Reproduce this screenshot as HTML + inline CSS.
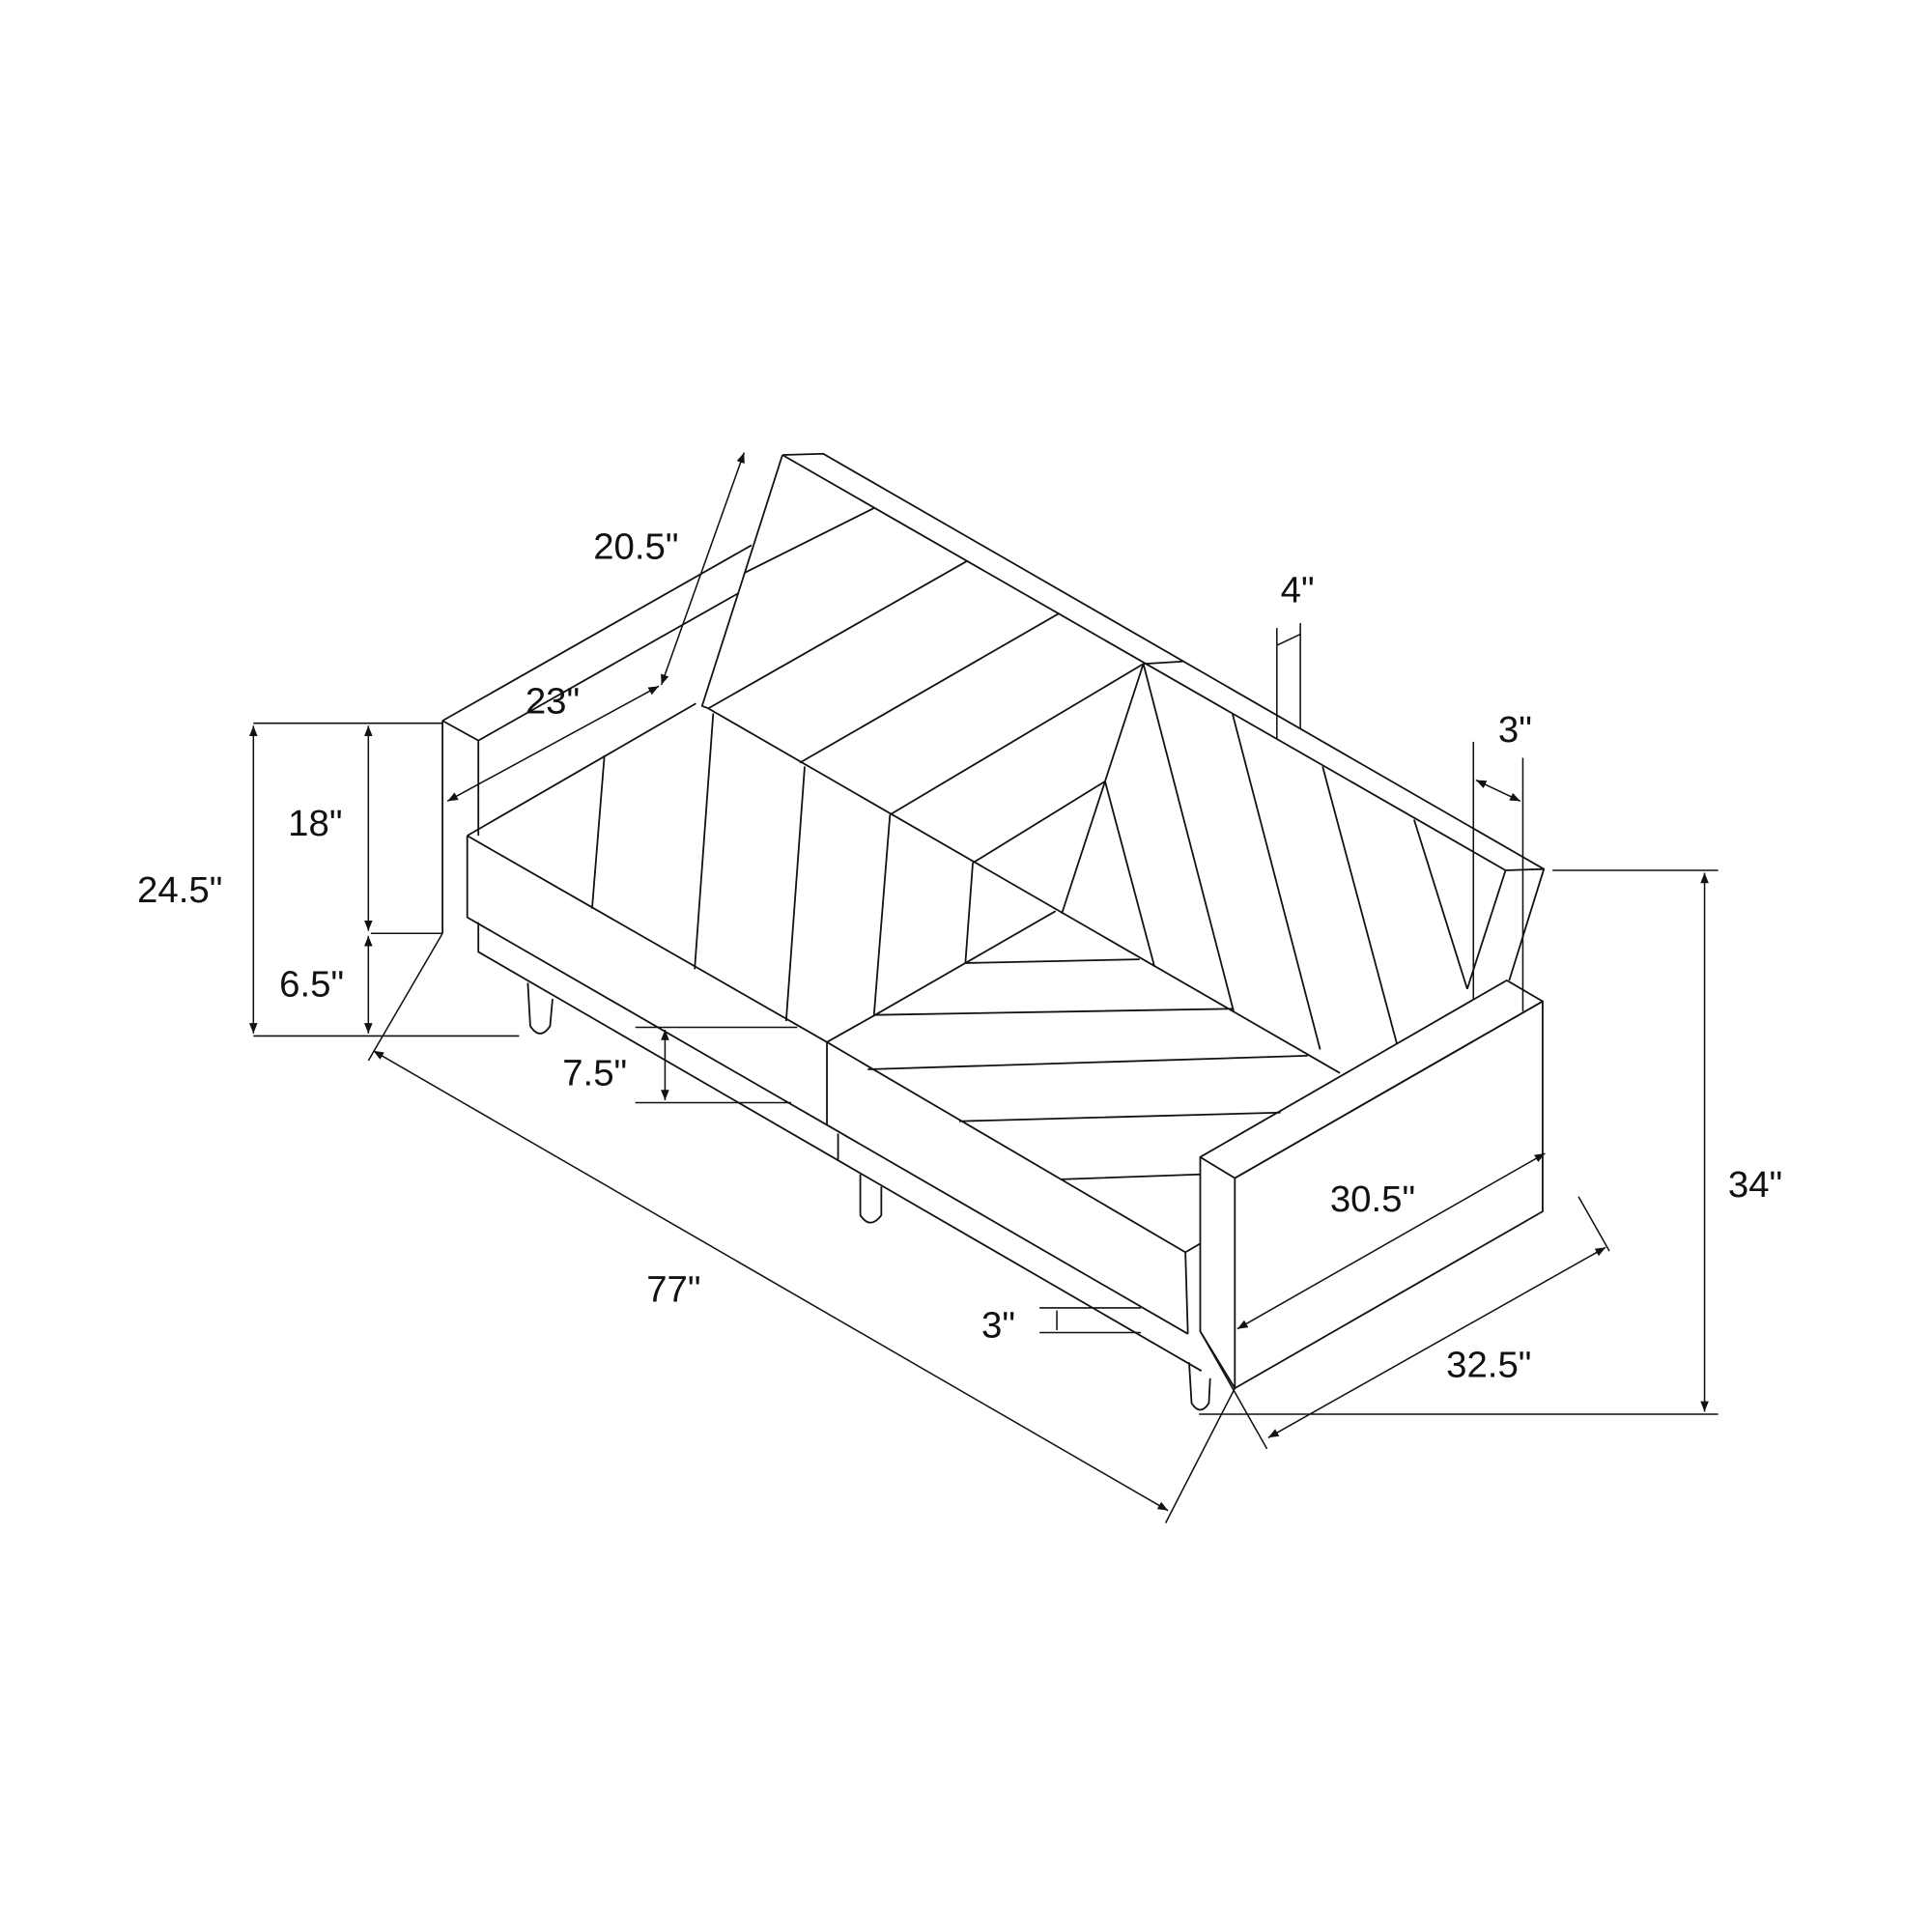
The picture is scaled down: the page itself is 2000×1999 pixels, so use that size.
<!DOCTYPE html>
<html><head><meta charset="utf-8"><style>
html,body{margin:0;padding:0;background:#fff}
svg{display:block}
text{font-family:"Liberation Sans",sans-serif;font-size:30px;fill:#111}
</style></head><body>
<svg width="2000" height="1999" viewBox="0 0 1563 1562" xmlns="http://www.w3.org/2000/svg">
<defs><marker id="a" viewBox="0 0 10 10" refX="10" refY="5" markerWidth="7" markerHeight="7" orient="auto-start-reverse"><path d="M0,1 L10,5 L0,9 z" fill="#111"/></marker></defs>
<g stroke="#111" stroke-width="1.4" fill="none" stroke-linejoin="round">
<!-- back frame -->
<path d="M633,368 L666,367 L1249,703 L1218,704 L633,368"/>
<path d="M633,368 L568,571 L573,573"/>
<path d="M925,537 L957,535"/>
<path d="M1218,704 L1187,800 M1249,703 L1221,793"/>
<!-- left back stripes -->
<path d="M603,463 L707,411 M573,573 L782,454 M647,617 L857,496 M720,659 L925,537"/>
<!-- seat/back junction -->
<path d="M573,573 L1084,868"/>
<!-- inner small triangle -->
<path d="M787,698 L894,632 M925,537 L894,632 L859,739 M894,632 L934,782"/>
<!-- right back stripes -->
<path d="M925,537 L998,818 M997,577 L1068,849 M1070,620 L1130,844 M1144,663 L1187,800"/>
<!-- seams -->
<path d="M489,611 L479,735 M577,577 L562,784 M651,620 L636,826 M720,659 L707,822 M787,698 L781,779"/>
<!-- seat chevron -->
<path d="M708,821 L854,737 M781,779 L922,776 M708,821 L997,816 M702,865 L1058,854 M776,907 L1036,900 M858,954 L971,950"/>
<!-- left arm -->
<path d="M358,583 L608,441 M387,599 L597,480 M358,583 L387,599 M358,583 L358,755 M387,599 L387,676"/>
<!-- seat front -->
<path d="M378,676 L563,569 M378,676 L669,843 L959,1013 L971,1006 M378,676 L378,742 L669,910 L961,1079 M669,843 L708,821 M669,843 L669,910 M959,1013 L961,1079"/>
<!-- lower frame -->
<path d="M387,746 L387,770 L972,1109 M678,917 L678,938"/>
<!-- right arm -->
<path d="M971,936 L1219,793 L1248,810 L999,953 Z"/>
<path d="M999,953 L1248,810 L1248,980 L999,1123 Z"/>
<path d="M971,936 L971,1077 L999,1123"/>
<!-- legs -->
<path d="M427,795 L429,830 Q437,842 445,830 L447,808"/>
<path d="M696,950 L696,983 Q704,995 713,983 L713,960"/>
<path d="M962,1102 L964,1135 Q971,1146 978,1135 L979,1115"/>
</g>
<g stroke="#111" stroke-width="1.2" fill="none">
<!-- left dims -->
<path d="M205,585 L358,585 M205,838 L420,838 M300,755 L358,755"/>
<path d="M205,587 L205,836" marker-start="url(#a)" marker-end="url(#a)"/>
<path d="M298,587 L298,753" marker-start="url(#a)" marker-end="url(#a)"/>
<path d="M298,757 L298,836" marker-start="url(#a)" marker-end="url(#a)"/>
<!-- 77 -->
<path d="M358,755 L298,858 M999,1123 L943,1232"/>
<path d="M302,850 L945,1222" marker-start="url(#a)" marker-end="url(#a)"/>
<!-- 7.5 -->
<path d="M514,831 L645,831 M514,892 L640,892"/>
<path d="M538,833 L538,890" marker-start="url(#a)" marker-end="url(#a)"/>
<!-- 3 bottom -->
<path d="M841,1058 L923,1058 M841,1078 L923,1078 M855,1060 L855,1076"/>
<!-- 23 -->
<path d="M362,648 L533,555" marker-start="url(#a)" marker-end="url(#a)"/>
<!-- 20.5 -->
<path d="M535,554 L602,366" marker-start="url(#a)" marker-end="url(#a)"/>
<!-- 4 -->
<path d="M1033,508 L1033,598 M1052,504 L1052,589 M1033,522 L1052,513"/>
<!-- 3 right -->
<path d="M1192,600 L1192,809 M1232,613 L1232,818"/>
<path d="M1194,631 L1230,648" marker-start="url(#a)" marker-end="url(#a)"/>
<!-- 34 -->
<path d="M1256,704 L1390,704 M970,1144 L1390,1144"/>
<path d="M1379,706 L1379,1142" marker-start="url(#a)" marker-end="url(#a)"/>
<!-- 30.5 -->
<path d="M1001,1075 L1250,933" marker-start="url(#a)" marker-end="url(#a)"/>
<!-- 32.5 -->
<path d="M971,1077 L1025,1172 M1277,968 L1302,1012"/>
<path d="M1026,1163 L1299,1009" marker-start="url(#a)" marker-end="url(#a)"/>
</g>
<text x="480" y="452">20.5"</text>
<text x="425" y="577">23"</text>
<text x="233" y="676">18"</text>
<text x="111" y="730">24.5"</text>
<text x="226" y="806">6.5"</text>
<text x="455" y="878">7.5"</text>
<text x="523" y="1053">77"</text>
<text x="794" y="1082">3"</text>
<text x="1036" y="487">4"</text>
<text x="1212" y="600">3"</text>
<text x="1076" y="980">30.5"</text>
<text x="1170" y="1114">32.5"</text>
<text x="1398" y="968">34"</text>
</svg>
</body></html>
